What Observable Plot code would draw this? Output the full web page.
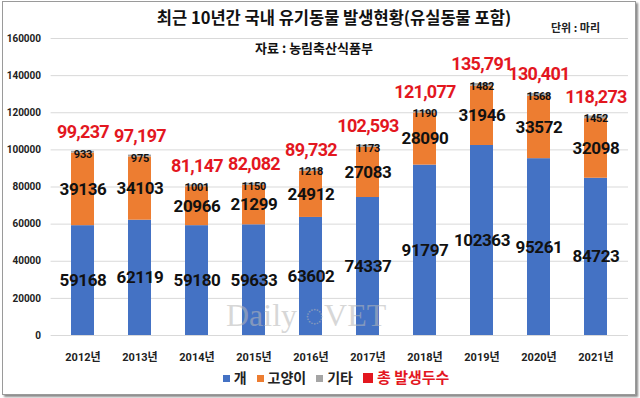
<!DOCTYPE html>
<html>
<head>
<meta charset="utf-8">
<script src="https://cdn.jsdelivr.net/npm/d3@7"></script>
<script src="https://cdn.jsdelivr.net/npm/@observablehq/plot@0.6"></script>
<style>
  html, body { margin: 0; padding: 0; background: #fff; }
  #wrap { position: relative; width: 640px; height: 398px; overflow: hidden; font-family: "Noto Sans CJK KR", "Noto Sans", sans-serif; }
  #frame { position: absolute; left: 2px; top: 1px; width: 632px; height: 392px; border: 1px solid #9a9a9a; box-shadow: 2px 2px 2px #8a8a8a; }
  .abs { position: absolute; white-space: nowrap; }
  #title { top: 5px; left: 13px; width: 642px; text-align: center; font-size: 16.5px; font-weight: bold; color: #111; }
  #unit { top: 19px; left: 551px; font-size: 11px; font-weight: bold; color: #222; }
  #source { top: 38px; left: 4px; width: 620px; text-align: center; font-size: 13px; font-weight: bold; color: #111; }
  #legend { top: 366px; left: 0; width: 672px; text-align: center; font-size: 14px; font-weight: bold; color: #222; }
  #legend span.item { margin: 0 5px; }
  #legend i { display: inline-block; width: 7px; height: 7px; margin-right: 4px; vertical-align: 1px; }
  #legend .tot { color: #e3171f; font-size: 15px; }
  #legend .tot i { width: 10px; height: 10px; vertical-align: 0px; }
  #wm { top: 297px; left: 226px; font-family: "Liberation Serif", serif; font-size: 32px; color: #b8b8b8; opacity: 0.55; }
  #chart svg { position: absolute; left: 0; top: 0; font-family: Roboto, "Noto Sans CJK KR", sans-serif !important; }
  #chart svg text { font-family: Roboto, "Noto Sans CJK KR", sans-serif !important; }
</style>
</head>
<body>
<div id="wrap">
  <div id="frame"></div>
  <div id="chart"></div>
  <div id="wm" class="abs">Daily ◌VET</div>
  <div id="title" class="abs">최근 10년간 국내 유기동물 발생현황(유실동물 포함)</div>
  <div id="unit" class="abs">단위 : 마리</div>
  <div id="source" class="abs">자료 : 농림축산식품부</div>
  <div id="legend" class="abs"></div>
</div>
<script>
const years = ["2012년","2013년","2014년","2015년","2016년","2017년","2018년","2019년","2020년","2021년"];
const dogs = [59168, 62119, 59180, 59633, 63602, 74337, 91797, 102363, 95261, 84723];
const cats = [39136, 34103, 20966, 21299, 24912, 27083, 28090, 31946, 33572, 32098];
const others = [933, 975, 1001, 1150, 1218, 1173, 1190, 1482, 1568, 1452];
const totals = [99237, 97197, 81147, 82082, 89732, 102593, 121077, 135791, 130401, 118273];
const yTicks = [0, 20000, 40000, 60000, 80000, 100000, 120000, 140000, 160000];
const types = ["개", "고양이", "기타"];
const colors = ["#4472c4", "#ed7d31", "#a5a5a5"];
const totalLabel = "총 발생두수";
const totalColor = "#e3171f";
const FF = 'Roboto, "Noto Sans CJK KR", sans-serif';

const rows = years.flatMap((y, i) => [
  {year: y, type: "개", value: dogs[i], lo: 0, hi: dogs[i]},
  {year: y, type: "고양이", value: cats[i], lo: dogs[i], hi: dogs[i] + cats[i]},
  {year: y, type: "기타", value: others[i], lo: dogs[i] + cats[i], hi: dogs[i] + cats[i] + others[i]}
]);
const big = rows.filter(d => d.type !== "기타");
const small = rows.filter(d => d.type === "기타");
const tots = years.map((y, i) => ({year: y, total: totals[i]}));

const chart = Plot.plot({
  width: 640,
  height: 398,
  marginTop: 38,
  marginBottom: 63,
  marginLeft: 50.6,
  marginRight: 12,
  style: {fontFamily: FF, background: "transparent", overflow: "visible"},
  x: {domain: years, paddingInner: 0.6, paddingOuter: 0.3},
  y: {domain: [0, 160000]},
  color: {domain: types, range: colors},
  marks: [
    Plot.gridY(yTicks, {stroke: "#d9d9d9", strokeOpacity: 1}),
    Plot.axisY(yTicks, {tickSize: 0, tickPadding: 10, tickFormat: d => String(d), fontSize: 10, fontWeight: "bold", fontFamily: FF, fill: "#222", label: null}),
    Plot.axisX({tickSize: 0, tickPadding: 18, fontSize: 11, fontWeight: "bold", fontFamily: FF, fill: "#222", label: null}),
    Plot.rectY(rows, {x: "year", y1: "lo", y2: "hi", fill: "type"}),
    Plot.text(big, {x: "year", y: d => (d.lo + d.hi) / 2, text: d => String(d.value), fontSize: 17, fontWeight: "bold", fontFamily: FF, fill: "#111"}),
    Plot.text(small, {x: "year", y: "hi", text: d => String(d.value), fontSize: 11, fontWeight: "bold", fontFamily: FF, fill: "#111", dy: 3}),
    Plot.text(tots, {x: "year", y: "total", text: d => d3.format(",")(d.total), fontSize: 18, fontWeight: "bold", fontFamily: FF, fill: totalColor, dy: -19})
  ]
});
document.getElementById("chart").appendChild(chart);

// slightly tighten the value labels so neighbouring totals keep a gap
const textGroups = chart.querySelectorAll('g[aria-label="text"]');
const spacings = ["-0.4px", "-0.2px", "-0.7px"];
textGroups.forEach((g, i) => { g.style.letterSpacing = spacings[i] || "0px"; });

const legend = document.getElementById("legend");
types.forEach((t, i) => {
  const s = document.createElement("span");
  s.className = "item";
  s.innerHTML = `<i style="background:${colors[i]}"></i>${t}`;
  legend.appendChild(s);
});
const st = document.createElement("span");
st.className = "item tot";
st.innerHTML = `<i style="background:${totalColor}"></i>${totalLabel}`;
legend.appendChild(st);
</script>
</body>
</html>
